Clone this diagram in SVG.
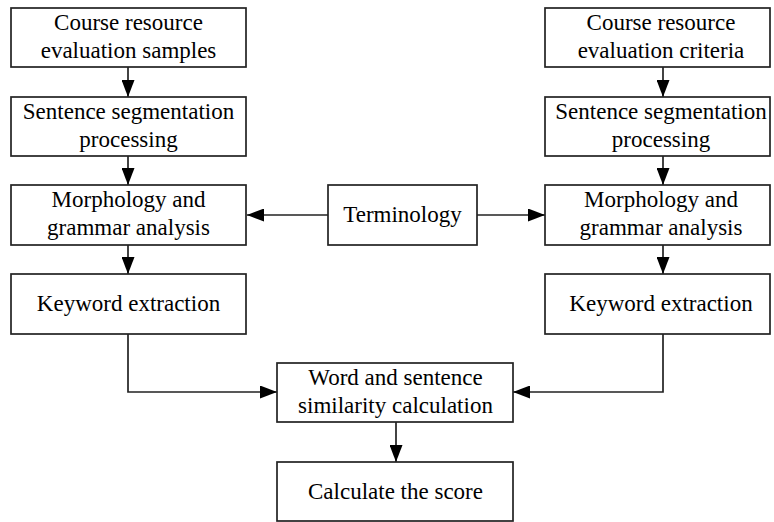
<svg xmlns="http://www.w3.org/2000/svg" width="774" height="522" viewBox="0 0 774 522">
<style>
.box{fill:#fff;stroke:#222;stroke-width:1.7}
.c{fill:none;stroke:#222;stroke-width:1.7}
</style>
<defs>
<marker id="ah" markerWidth="17" markerHeight="13" viewBox="0 0 17 13" refX="17" refY="6.5" orient="auto" markerUnits="userSpaceOnUse">
<path d="M0,0 L17,6.5 L0,13 Z" fill="#000"/>
</marker>
</defs>
<rect width="774" height="522" fill="#fff"/>
<g id="connectors">
<line class="c" x1="128" y1="67" x2="128" y2="97" marker-end="url(#ah)"/>
<line class="c" x1="128" y1="156" x2="128" y2="185" marker-end="url(#ah)"/>
<line class="c" x1="128" y1="245" x2="128" y2="274" marker-end="url(#ah)"/>
<line class="c" x1="663" y1="67" x2="663" y2="97" marker-end="url(#ah)"/>
<line class="c" x1="663" y1="156" x2="663" y2="185" marker-end="url(#ah)"/>
<line class="c" x1="663" y1="245" x2="663" y2="274" marker-end="url(#ah)"/>
<line class="c" x1="328" y1="215" x2="247" y2="215" marker-end="url(#ah)"/>
<line class="c" x1="477" y1="215" x2="545" y2="215" marker-end="url(#ah)"/>
<polyline class="c" points="128,334 128,392 277,392" marker-end="url(#ah)"/>
<polyline class="c" points="663,334 663,392 513,392" marker-end="url(#ah)"/>
<line class="c" x1="396" y1="422" x2="396" y2="462" marker-end="url(#ah)"/>
</g>
<g font-family="Liberation Serif, DejaVu Serif, serif" font-size="23" text-anchor="middle" fill="#000">
<g id="n1"><rect class="box" x="11" y="8" width="235" height="59"/><text x="128.5" y="30">Course resource</text><text x="128.5" y="58">evaluation samples</text></g>
<g id="n2"><rect class="box" x="11" y="97" width="235" height="59"/><text x="128.5" y="119">Sentence segmentation</text><text x="128.5" y="147">processing</text></g>
<g id="n3"><rect class="box" x="11" y="185" width="235" height="60"/><text x="128.5" y="207">Morphology and</text><text x="128.5" y="235">grammar analysis</text></g>
<g id="n4"><rect class="box" x="11" y="274" width="235" height="60"/><text x="128.5" y="311">Keyword extraction</text></g>
<g id="n5"><rect class="box" x="545" y="8" width="225" height="59"/><text x="661" y="30">Course resource</text><text x="661" y="58">evaluation criteria</text></g>
<g id="n6"><rect class="box" x="545" y="97" width="225" height="59"/><text x="661" y="119">Sentence segmentation</text><text x="661" y="147">processing</text></g>
<g id="n7"><rect class="box" x="545" y="185" width="225" height="60"/><text x="661" y="207">Morphology and</text><text x="661" y="235">grammar analysis</text></g>
<g id="n8"><rect class="box" x="545" y="274" width="225" height="60"/><text x="661" y="311">Keyword extraction</text></g>
<g id="n9"><rect class="box" x="328" y="185" width="149" height="60"/><text x="402.5" y="222">Terminology</text></g>
<g id="n10"><rect class="box" x="277" y="363" width="236" height="59"/><text x="395.5" y="385">Word and sentence</text><text x="395.5" y="413">similarity calculation</text></g>
<g id="n11"><rect class="box" x="277" y="462" width="236" height="59"/><text x="395.5" y="499">Calculate the score</text></g>
</g>
</svg>
